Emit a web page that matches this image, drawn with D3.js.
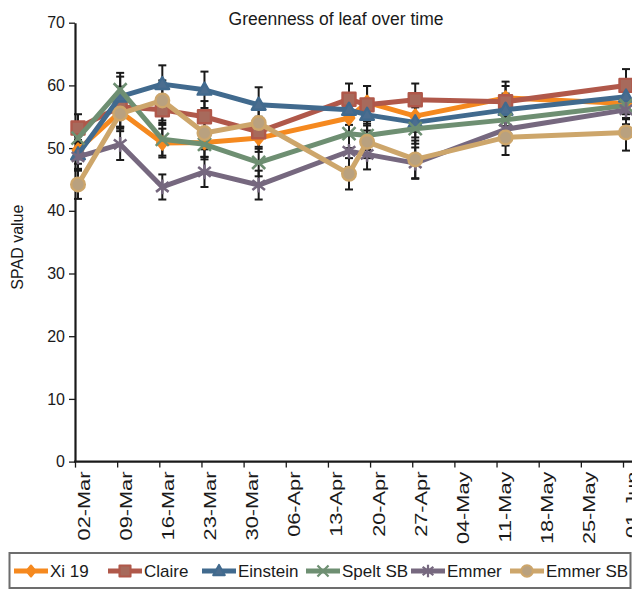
<!DOCTYPE html>
<html>
<head>
<meta charset="utf-8">
<script src="https://cdn.jsdelivr.net/npm/d3@7"></script>
<style>
  html, body { margin: 0; padding: 0; background: #fff; }
  svg { display: block; font-family: "Liberation Sans", Arial, sans-serif; }
</style>
</head>
<body>
<svg id="chart" width="632" height="590"></svg>
<script>
// Sampling dates (day-month), readings taken at midday
const sampleDates = ["02-Mar","09-Mar","16-Mar","23-Mar","01-Apr","16-Apr","19-Apr","27-Apr","12-May","01-Jun"];
const tickLabels = ["02-Mar","09-Mar","16-Mar","23-Mar","30-Mar","06-Apr","13-Apr","20-Apr","27-Apr","04-May","11-May","18-May","25-May","01-Jun"];
const yTicks = [0, 10, 20, 30, 40, 50, 60, 70];

// Mean SPAD readings per variety
const xi19     = [49.7, 55.8, 50.8, 50.9, 51.6, 54.8, 57.3, 55.1, 58.0, 57.1];
const claire   = [53.2, 56.6, 56.1, 55.0, 52.6, 57.8, 56.9, 57.7, 57.4, 60.0];
const einstein = [49.0, 58.2, 60.2, 59.3, 56.9, 56.1, 55.3, 54.1, 56.1, 58.2];
const speltSB  = [51.6, 59.3, 51.4, 50.6, 47.7, 52.3, 52.0, 53.1, 54.5, 56.8];
const emmer    = [48.6, 50.6, 43.8, 46.2, 44.1, 49.5, 49.0, 47.6, 53.0, 56.1];
const emmerSB  = [44.2, 55.5, 57.6, 52.4, 54.0, 45.9, 51.0, 48.2, 51.7, 52.5];

// Error (± half-range) per reading
const xi19Err     = [2.2, 2.4, 2.3, 2.3, 2.2, 2.4, 2.6, 2.5, 2.6, 2.3];
const claireErr   = [2.2, 3.2, 2.4, 2.5, 2.4, 2.5, 3.0, 2.6, 2.5, 2.6];
const einsteinErr = [2.3, 3.2, 3.0, 2.9, 2.8, 2.4, 2.5, 2.4, 2.6, 2.4];
const speltSBErr  = [2.0, 2.7, 2.6, 2.4, 2.2, 2.3, 2.3, 2.4, 2.3, 2.2];
const emmerErr    = [2.2, 2.5, 2.0, 2.4, 2.3, 2.5, 2.4, 2.5, 2.6, 2.3];
const emmerSBErr  = [2.3, 2.8, 3.2, 2.6, 2.6, 2.5, 2.6, 3.0, 2.8, 2.9];

const seriesNames = ["Xi 19", "Claire", "Einstein", "Spelt SB", "Emmer", "Emmer SB"];

const YEAR = 2019;
const parseDay = d3.timeParse("%d-%b-%Y %H");
const toDate = (s, h) => parseDay(`${s}-${YEAR} ${h}`);

// Visual styling per variety
const styles = [
  { color: "#f5891f", fill: "#f5891f", marker: "diamond" },
  { color: "#b0584a", fill: "#a76a5c", marker: "square" },
  { color: "#416a8e", fill: "#4b6d8f", marker: "triangle" },
  { color: "#6e8f72", fill: "none",    marker: "times" },
  { color: "#76687f", fill: "none",    marker: "asterisk" },
  { color: "#cda66b", fill: "#b9a17f", marker: "circle" }
];

const values = [xi19, claire, einstein, speltSB, emmer, emmerSB];
const errors = [xi19Err, claireErr, einsteinErr, speltSBErr, emmerErr, emmerSBErr];

const series = seriesNames.map((name, i) => ({
  name,
  style: styles[i],
  points: sampleDates.map((d, j) => ({ date: toDate(d, 12), v: values[i][j], e: errors[i][j] }))
}));

const svg = d3.select("#chart");
const W = 632;

const x = d3.scaleTime()
  .domain([toDate("02-Mar", 0), toDate("01-Jun", 0)])
  .range([75, 623]);
const y = d3.scaleLinear().domain([0, 70]).range([461.6, 22.7]);

// Title
svg.append("text")
  .attr("x", 336).attr("y", 25)
  .attr("text-anchor", "middle")
  .attr("font-size", 17.5)
  .attr("fill", "#1a1a1a")
  .text("Greenness of leaf over time");

// Y axis
const yAxis = svg.append("g")
  .attr("transform", `translate(${x.range()[0]},0)`)
  .call(d3.axisLeft(y).tickValues(yTicks).tickSize(6).tickSizeOuter(0).tickPadding(4));
yAxis.select(".domain").attr("stroke", "#1a1a1a").attr("stroke-width", 2.2);
yAxis.selectAll(".tick line").attr("stroke", "#1a1a1a").attr("stroke-width", 1.3);
yAxis.selectAll(".tick text").attr("font-size", 16).attr("fill", "#1a1a1a")
  .attr("font-family", "'Liberation Sans', Arial, sans-serif");

svg.append("text")
  .attr("transform", `translate(23,${(y.range()[0] + y.range()[1]) / 2 + 5}) rotate(-90)`)
  .attr("text-anchor", "middle")
  .attr("font-size", 16)
  .attr("fill", "#1a1a1a")
  .text("SPAD value");

// X axis (date axis, weekly ticks)
const tickDates = tickLabels.map(s => toDate(s, 0));
const xAxis = svg.append("g")
  .attr("transform", `translate(0,${y(0)})`)
  .call(d3.axisBottom(x).tickValues(tickDates).tickSize(6).tickSizeOuter(0).tickFormat(""));
xAxis.select(".domain").remove();
xAxis.selectAll(".tick line").attr("stroke", "#1a1a1a").attr("stroke-width", 1.3);
xAxis.append("line")
  .attr("x1", x.range()[0] - 1).attr("x2", W + 5)
  .attr("y1", 0).attr("y2", 0)
  .attr("stroke", "#1a1a1a").attr("stroke-width", 2.2);

xAxis.selectAll(".tick").each(function (d, i) {
  d3.select(this).append("text")
    .attr("transform", `translate(14,10) rotate(-90) scale(1.36,1)`)
    .attr("text-anchor", "end")
    .attr("font-size", 16)
    .attr("fill", "#1a1a1a")
    .attr("font-family", "'Liberation Sans', Arial, sans-serif")
    .text(tickLabels[i]);
});

// Marker shapes
function markerPath(kind, s) {
  switch (kind) {
    case "diamond": return `M0,${-s}L${s * 0.8},0L0,${s}L${-s * 0.8},0Z`;
    case "square": return `M${-s},${-s}H${s}V${s}H${-s}Z`;
    case "triangle": return `M0,${-s * 1.1}L${s * 1.05},${s * 0.75}L${-s * 1.05},${s * 0.75}Z`;
    case "times": return `M${-s},${-s}L${s},${s}M${s},${-s}L${-s},${s}`;
    case "asterisk": return `M${-s * 0.9},${-s * 0.7}L${s * 0.9},${s * 0.7}M${s * 0.9},${-s * 0.7}L${-s * 0.9},${s * 0.7}M0,${-s * 1.05}V${s * 1.05}`;
    case "circle": return d3.symbol(d3.symbolCircle, Math.PI * s * s)();
  }
}
const markerSize = { diamond: 6.5, square: 6.5, triangle: 6.5, times: 6.5, asterisk: 7, circle: 6.8 };

function drawMarker(g, st) {
  const k = st.marker;
  const p = g.append("path").attr("d", markerPath(k, markerSize[k]));
  if (k === "times" || k === "asterisk") {
    p.attr("fill", "none").attr("stroke", st.color).attr("stroke-width", 2.6);
  } else {
    p.attr("fill", st.fill).attr("stroke", st.color).attr("stroke-width", 2.4)
     .attr("stroke-linejoin", "round");
  }
}

// Error bars (drawn beneath the series)
const errG = svg.append("g");
series.forEach(s => {
  s.points.forEach(p => {
    const cx = x(p.date), y1 = y(p.v + p.e), y2 = y(p.v - p.e);
    errG.append("line").attr("x1", cx).attr("x2", cx).attr("y1", y1).attr("y2", y2)
      .attr("stroke", "#1a1a1a").attr("stroke-width", 2);
    [y1, y2].forEach(yy => errG.append("line")
      .attr("x1", cx - 4).attr("x2", cx + 4).attr("y1", yy).attr("y2", yy)
      .attr("stroke", "#1a1a1a").attr("stroke-width", 2));
  });
});

// Series lines and markers
const line = d3.line().x(p => x(p.date)).y(p => y(p.v));
series.forEach(s => {
  const g = svg.append("g");
  g.append("path").datum(s.points).attr("d", line)
    .attr("fill", "none").attr("stroke", s.style.color)
    .attr("stroke-width", 5).attr("stroke-linejoin", "round").attr("stroke-linecap", "round");
  s.points.forEach(p => {
    drawMarker(g.append("g").attr("transform", `translate(${x(p.date)},${y(p.v)})`), s.style);
  });
});

// Legend
const legendX = [14, 108, 202, 306, 411, 510];
const legend = svg.append("g");
legend.append("rect")
  .attr("x", 9.5).attr("y", 553).attr("width", 621).attr("height", 35)
  .attr("fill", "#fff").attr("stroke", "#6d6d6d").attr("stroke-width", 2);
series.forEach((s, i) => {
  const g = legend.append("g").attr("transform", `translate(${legendX[i]},571)`);
  g.append("line").attr("x1", 0).attr("x2", 34).attr("y1", 0).attr("y2", 0)
    .attr("stroke", s.style.color).attr("stroke-width", 5);
  drawMarker(g.append("g").attr("transform", "translate(17,0) scale(0.85)"), s.style);
  g.append("text").attr("x", 36).attr("y", 6)
    .attr("font-size", 17).attr("fill", "#1a1a1a")
    .text(s.name);
});
</script>
</body>
</html>
